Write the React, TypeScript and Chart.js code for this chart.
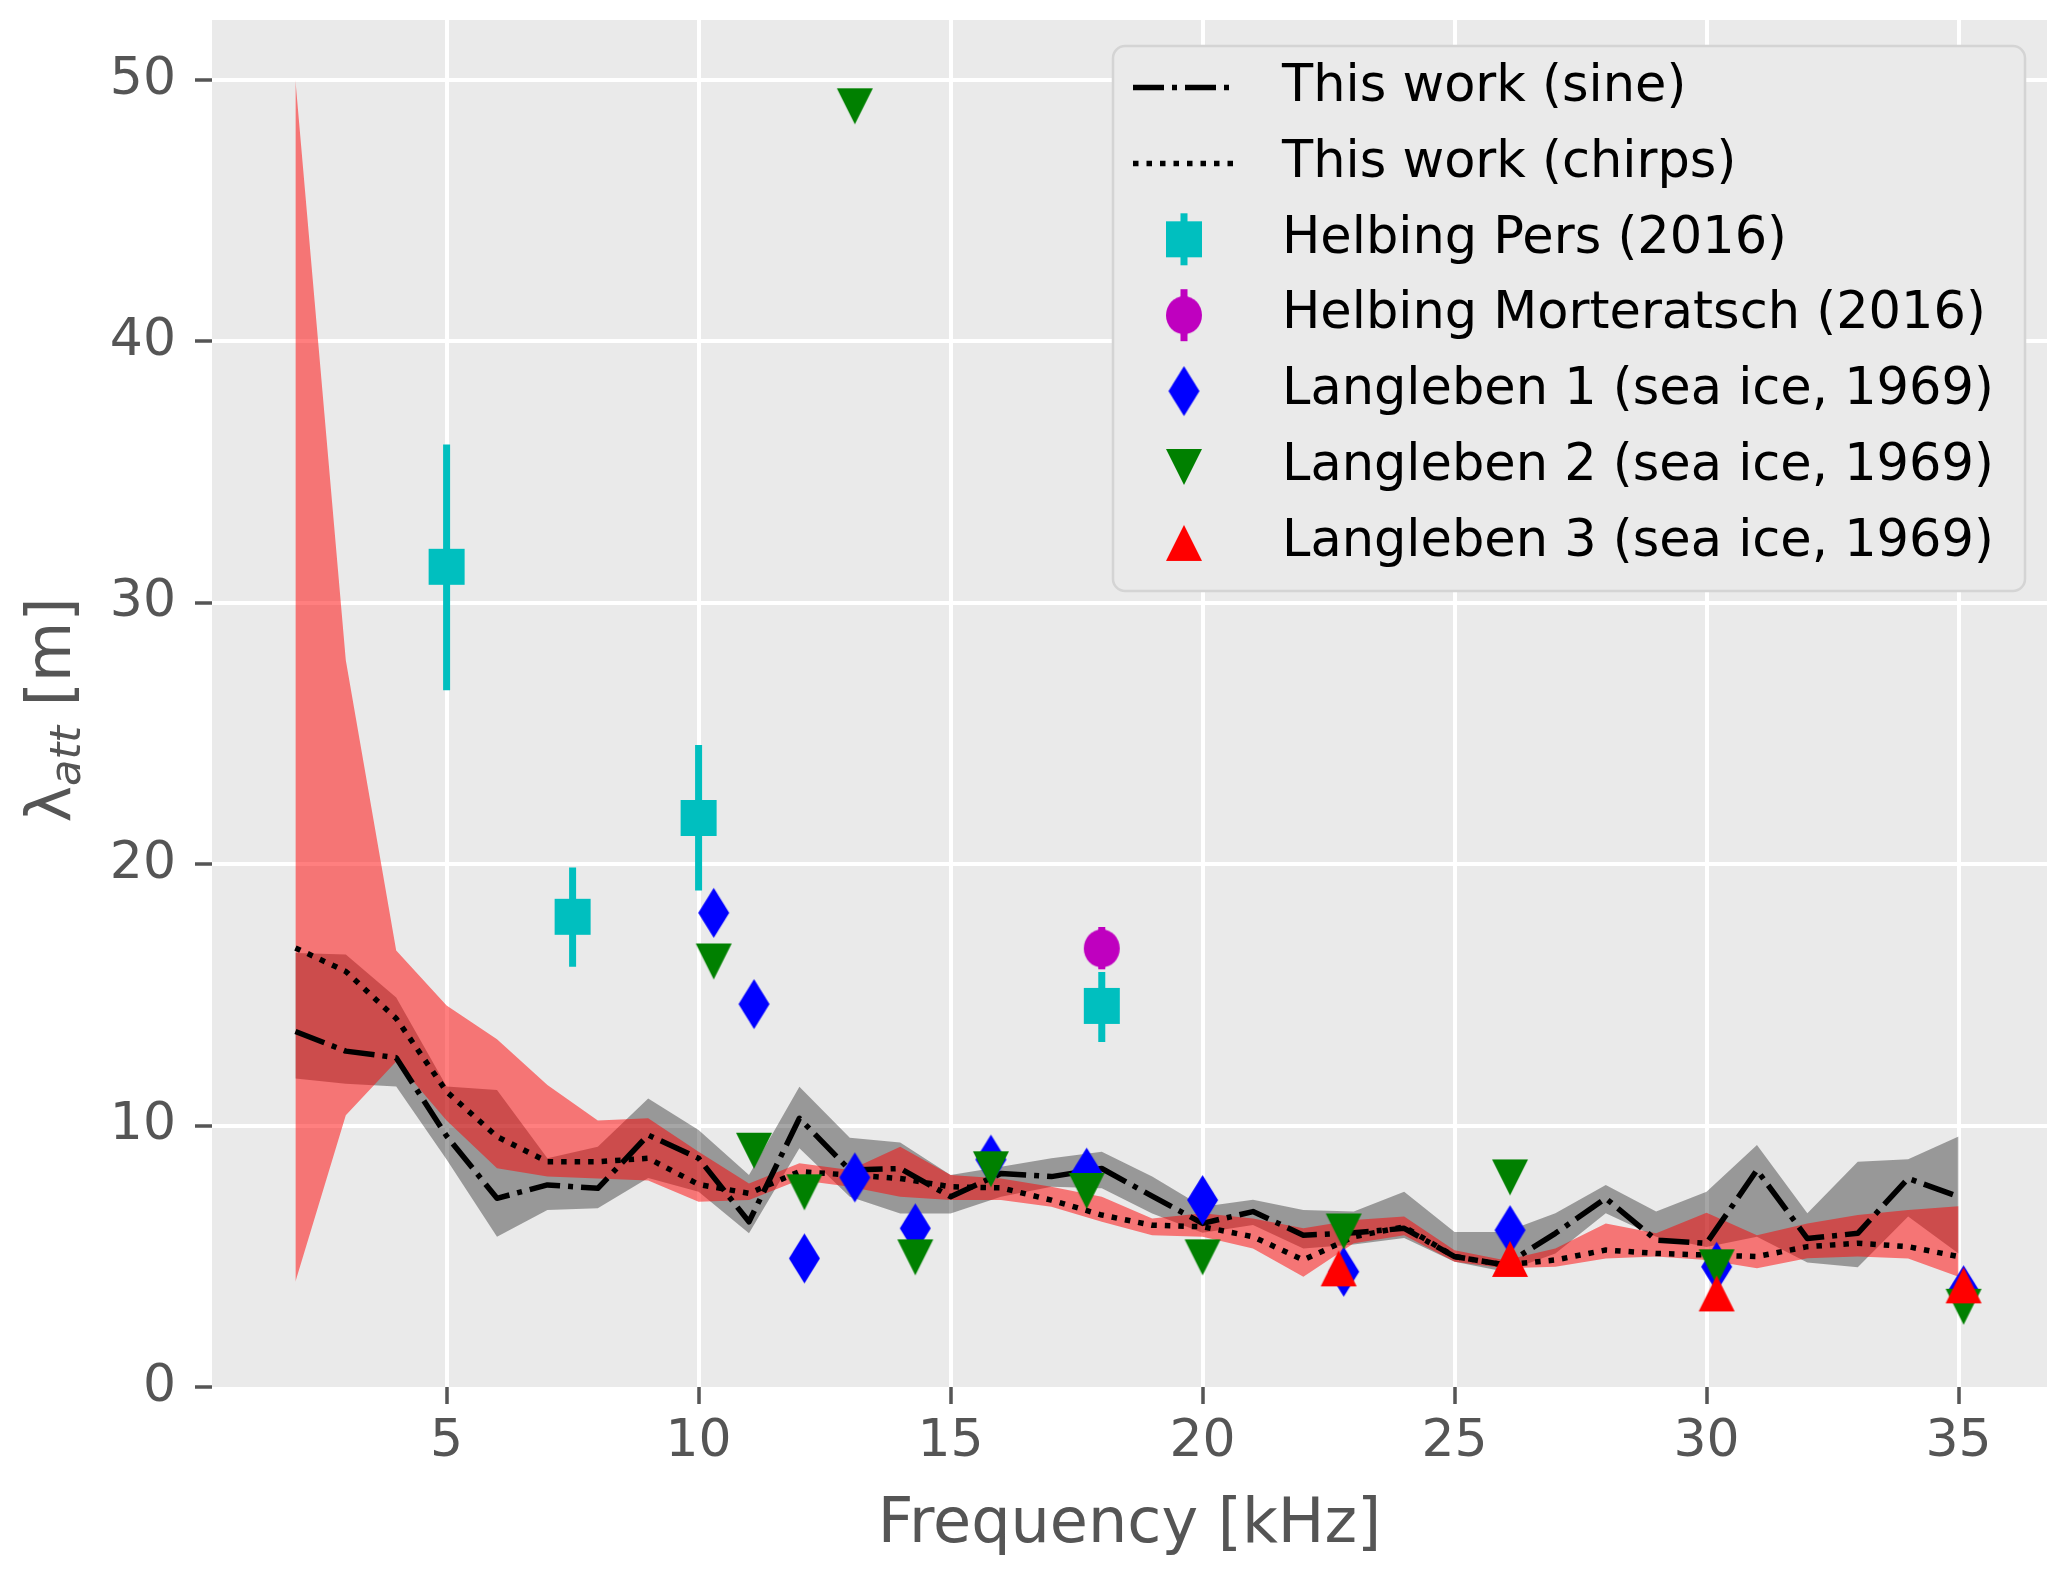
import React, { useEffect, useRef } from 'react';
import { Chart, registerables } from 'chart.js';

Chart.register(...registerables);

// frequency steps of the measured curves [kHz]
const freq = [2, 3, 4, 5, 6, 7, 8, 9, 10, 11, 12, 13, 14, 15, 16, 17, 18, 19, 20, 21, 22, 23, 24, 25, 26, 27, 28, 29, 30, 31, 32, 33, 34, 35];

// This work (sine): mean and band
const sineMean = [13.6, 12.85, 12.6, 9.6, 7.22, 7.73, 7.6, 9.64, 8.75, 6.32, 10.28, 8.3, 8.36, 7.28, 8.17, 8.05, 8.36, 7.3, 6.26, 6.71, 5.81, 5.9, 6.07, 4.99, 4.67, 5.88, 7.22, 5.62, 5.5, 8.3, 5.68, 5.88, 7.98, 7.28];
const sineHigh = [16.6, 16.55, 14.9, 11.5, 11.36, 8.75, 9.19, 11.04, 9.83, 8.11, 11.49, 9.54, 9.35, 8.11, 8.43, 8.75, 9.0, 8.05, 6.9, 7.16, 6.77, 6.71, 7.47, 5.93, 5.93, 6.65, 7.73, 6.71, 7.47, 9.26, 6.65, 8.62, 8.71, 9.58];
const sineLow = [11.8, 11.6, 11.5, 8.7, 5.75, 6.77, 6.84, 8.0, 7.47, 5.88, 9.13, 7.28, 6.64, 6.64, 7.28, 7.66, 7.6, 6.64, 5.9, 6.2, 5.3, 5.45, 5.7, 4.79, 4.41, 5.11, 6.65, 5.75, 5.36, 5.75, 4.76, 4.58, 6.52, 5.11];

// This work (chirps): mean and band
const chirpMean = [16.8, 15.9, 14.1, 11.3, 9.58, 8.62, 8.62, 8.75, 7.75, 7.41, 8.24, 8.11, 7.98, 7.66, 7.62, 7.15, 6.58, 6.19, 6.13, 5.75, 4.86, 5.75, 6.13, 4.99, 4.67, 4.86, 5.24, 5.11, 5.05, 4.99, 5.37, 5.5, 5.37, 4.99];
const chirpHigh = [50, 27.8, 16.7, 14.6, 13.3, 11.55, 10.2, 10.28, 9.0, 7.79, 8.56, 8.3, 9.19, 8.11, 7.98, 7.66, 7.28, 6.45, 6.65, 6.45, 6.07, 6.39, 6.52, 5.23, 4.85, 5.3, 6.26, 5.88, 6.67, 5.81, 6.26, 6.58, 6.77, 6.92];
const chirpLow = [4.03, 10.4, 12.45, 10.2, 8.37, 8.05, 7.98, 7.9, 7.09, 7.15, 7.92, 7.66, 7.28, 7.15, 7.15, 6.9, 6.32, 5.81, 5.75, 5.3, 4.22, 5.5, 5.81, 4.79, 4.54, 4.6, 4.92, 4.99, 4.86, 4.54, 4.93, 4.99, 4.92, 4.22];

// Helbing Pers (2016)
const persFreq = [5, 7.5, 10, 18];
const persVal = [31.38, 17.99, 21.77, 14.58];
const persLow = [26.66, 16.08, 19.0, 13.2];
const persHigh = [36.06, 19.88, 24.56, 15.88];

// Helbing Morteratsch (2016)
const mortFreq = [18];
const mortVal = [16.78];
const mortLow = [15.98];
const mortHigh = [17.6];

// Langleben (sea ice, 1969)
const langFreq = [10.3, 11.1, 12.1, 13.1, 14.3, 15.8, 17.7, 20.0, 22.8, 26.1, 30.2, 35.1];
const lang1Val = [18.14, 14.65, 4.92, 8.02, 6.07, 8.7, 8.2, 7.15, 4.41, 6.0, 4.6, 3.7];
const lang2Val = [16.28, 9.04, 7.45, 49.0, 4.96, 8.33, 7.5, 4.96, 5.95, 8.02, 4.58, 3.07];
const lang3Freq = [22.7, 26.1, 30.2, 35.1];
const lang3Val = [4.54, 4.9, 3.58, 3.89];

const xTicks = [5, 10, 15, 20, 25, 30, 35];
const yTicks = [0, 10, 20, 30, 40, 50];

const legendLabels = [
    'This work (sine)',
    'This work (chirps)',
    'Helbing Pers (2016)',
    'Helbing Morteratsch (2016)',
    'Langleben 1 (sea ice, 1969)',
    'Langleben 2 (sea ice, 1969)',
    'Langleben 3 (sea ice, 1969)',
];

const FONT = '"DejaVu Sans"';
const AXIS_GREY = '#555555';
const PANEL = '#EAEAEA';
const SINE_DASH = [31, 8, 5, 8];
const CHIRP_DASH = [5.5, 8];

const makeMarker = (shape: string, color: string, w: number, h: number) => {
    const c = document.createElement('canvas');
    c.width = Math.round(w) + 2;
    c.height = Math.round(h) + 2;
    const g = c.getContext('2d')!;
    g.fillStyle = color;
    g.translate(c.width / 2, c.height / 2);
    g.beginPath();
    if (shape === 'square') {
        g.rect(-w / 2, -h / 2, w, h);
    } else if (shape === 'circle') {
        g.ellipse(0, 0, w / 2, h / 2, 0, 0, Math.PI * 2);
    } else if (shape === 'diamond') {
        g.moveTo(0, -h / 2);
        g.lineTo(w / 2, 0);
        g.lineTo(0, h / 2);
        g.lineTo(-w / 2, 0);
    } else if (shape === 'down') {
        g.moveTo(-w / 2, -h / 2);
        g.lineTo(w / 2, -h / 2);
        g.lineTo(0, h / 2);
    } else {
        g.moveTo(-w / 2, h / 2);
        g.lineTo(w / 2, h / 2);
        g.lineTo(0, -h / 2);
    }
    g.closePath();
    g.fill();
    return c;
};

const points = (xs: number[], ys: number[]) => xs.map((x, i) => ({ x, y: ys[i] }));

// vertical error bars as separate line pieces
const errorBars = (xs: number[], lo: number[], hi: number[]) =>
    xs.flatMap((x, i) => [{ x, y: lo[i] }, { x, y: hi[i] }, { x, y: null }]);

const panelPlugin = {
    id: 'panel',
    beforeDraw(chart: any) {
        const { ctx, chartArea: a } = chart;
        ctx.save();
        ctx.fillStyle = PANEL;
        ctx.fillRect(a.left, a.top, a.right - a.left, a.bottom - a.top);
        ctx.restore();
    },
};

const axisTitlePlugin = {
    id: 'axisTitles',
    afterDraw(chart: any) {
        const { ctx, chartArea: a } = chart;
        ctx.save();
        ctx.fillStyle = AXIS_GREY;
        ctx.textBaseline = 'alphabetic';
        ctx.textAlign = 'center';
        ctx.font = `62px ${FONT}`;
        ctx.fillText('Frequency [kHz]', (a.left + a.right) / 2, 1542);

        // lambda_att [m], rotated
        ctx.translate(70, 710);
        ctx.rotate(-Math.PI / 2);
        ctx.textAlign = 'left';
        const main = `62px ${FONT}`;
        const sub = `italic 43px ${FONT}`;
        ctx.font = main;
        const wL = ctx.measureText('λ').width;
        const wTail = ctx.measureText(' [m]').width;
        ctx.font = sub;
        const wSub = ctx.measureText('att').width;
        let x = -(wL + wSub + wTail) / 2;
        ctx.font = main;
        ctx.fillText('λ', x, 0);
        x += wL;
        ctx.font = sub;
        ctx.fillText('att', x, 10);
        x += wSub;
        ctx.font = main;
        ctx.fillText(' [m]', x, 0);
        ctx.restore();
    },
};

const boxLegendPlugin = {
    id: 'boxLegend',
    afterDraw(chart: any) {
        const { ctx } = chart;
        const left = 1113, top = 46, w = 912, h = 545, r = 12;
        ctx.save();
        ctx.beginPath();
        ctx.roundRect(left, top, w, h, r);
        ctx.fillStyle = PANEL;
        ctx.fill();
        ctx.lineWidth = 2.5;
        ctx.strokeStyle = '#D4D4D4';
        ctx.stroke();

        legendLabels.forEach((label, i) => {
            const ds = chart.data.datasets.find((d: any) => d.label === label);
            const y = 87.5 + i * 75.9;
            if (!ds) return;
            if (ds.type === 'line') {
                ctx.beginPath();
                ctx.setLineDash(ds.borderDash || []);
                ctx.lineCap = 'butt';
                ctx.lineWidth = ds.borderWidth;
                ctx.strokeStyle = ds.borderColor;
                ctx.moveTo(1133, y);
                ctx.lineTo(1235, y);
                ctx.stroke();
                ctx.setLineDash([]);
            } else {
                const bars = chart.data.datasets.find((d: any) => d.barsOf === label);
                if (bars) {
                    ctx.beginPath();
                    ctx.lineWidth = bars.borderWidth;
                    ctx.strokeStyle = bars.borderColor;
                    ctx.moveTo(1184, y - 26);
                    ctx.lineTo(1184, y + 26);
                    ctx.stroke();
                }
                const img = ds.pointStyle;
                ctx.drawImage(img, 1184 - img.width / 2, y - img.height / 2);
            }
            ctx.fillStyle = '#000000';
            ctx.font = `51px ${FONT}`;
            ctx.textAlign = 'left';
            ctx.textBaseline = 'middle';
            ctx.fillText(label, 1282, y);
        });
        ctx.restore();
    },
};

const App: React.FC = () => {
    const chartRef = useRef<HTMLCanvasElement | null>(null);

    useEffect(() => {
        const ctx = chartRef.current?.getContext('2d');
        if (!ctx) {
            return;
        }

        const cyan = '#00BFBF';
        const magenta = '#BF00BF';

        const band = (ys: number[], color: string | false, order: number) => ({
            type: 'line' as const,
            data: points(freq, ys),
            borderWidth: 0,
            pointRadius: 0,
            tension: 0,
            fill: color ? '+1' : false,
            backgroundColor: color || 'rgba(0,0,0,0)',
            order,
        });

        const markers = (label: string, xs: number[], ys: number[], img: HTMLCanvasElement, order: number) => ({
            type: 'scatter' as const,
            label,
            data: points(xs, ys),
            pointStyle: img,
            pointRadius: 18,
            borderWidth: 0,
            order,
        });

        const bars = (of: string, xs: number[], lo: number[], hi: number[], color: string, order: number) => ({
            type: 'line' as const,
            barsOf: of,
            data: errorBars(xs, lo, hi),
            borderColor: color,
            borderWidth: 7,
            borderCapStyle: 'butt',
            pointRadius: 0,
            spanGaps: false,
            fill: false,
            order,
        });

        const myChart = new Chart(ctx, {
            type: 'line',
            data: {
                datasets: [
                    band(sineHigh, 'rgba(0,0,0,0.35)', 10),
                    band(sineLow, false, 10),
                    band(chirpHigh, 'rgba(255,0,0,0.5)', 9),
                    band(chirpLow, false, 9),
                    {
                        type: 'line',
                        label: 'This work (sine)',
                        data: points(freq, sineMean),
                        borderColor: '#000000',
                        borderWidth: 5.5,
                        borderDash: SINE_DASH,
                        borderCapStyle: 'butt',
                        borderJoinStyle: 'round',
                        pointRadius: 0,
                        tension: 0,
                        fill: false,
                        order: 6,
                    },
                    {
                        type: 'line',
                        label: 'This work (chirps)',
                        data: points(freq, chirpMean),
                        borderColor: '#000000',
                        borderWidth: 5.5,
                        borderDash: CHIRP_DASH,
                        borderCapStyle: 'butt',
                        borderJoinStyle: 'round',
                        pointRadius: 0,
                        tension: 0,
                        fill: false,
                        order: 5,
                    },
                    bars('Helbing Pers (2016)', persFreq, persLow, persHigh, cyan, 4.5),
                    markers('Helbing Pers (2016)', persFreq, persVal, makeMarker('square', cyan, 36, 36), 4),
                    bars('Helbing Morteratsch (2016)', mortFreq, mortLow, mortHigh, magenta, 3.5),
                    markers('Helbing Morteratsch (2016)', mortFreq, mortVal, makeMarker('circle', magenta, 36, 38), 3),
                    markers('Langleben 1 (sea ice, 1969)', langFreq, lang1Val, makeMarker('diamond', '#0000FF', 31, 50), 2),
                    markers('Langleben 2 (sea ice, 1969)', langFreq, lang2Val, makeMarker('down', '#008000', 36, 36), 1),
                    markers('Langleben 3 (sea ice, 1969)', lang3Freq, lang3Val, makeMarker('up', '#FF0000', 36, 36), 0),
                ] as any,
            },
            options: {
                animation: false,
                responsive: false,
                devicePixelRatio: 1,
                events: [],
                layout: {
                    padding: { left: 0, top: 20, right: 20, bottom: 0 },
                },
                plugins: {
                    legend: { display: false },
                    tooltip: { enabled: false },
                },
                scales: {
                    x: {
                        type: 'linear',
                        min: 0.345,
                        max: 36.755,
                        afterBuildTicks: (s: any) => {
                            s.ticks = xTicks.map((value) => ({ value }));
                        },
                        afterFit: (s: any) => {
                            s.height = 188;
                            s.paddingLeft = 0;
                            s.paddingRight = 0;
                        },
                        border: { display: false },
                        grid: {
                            color: '#FFFFFF',
                            lineWidth: 4,
                            drawTicks: true,
                            tickLength: 17,
                            tickWidth: 3.5,
                            tickColor: AXIS_GREY,
                        },
                        ticks: {
                            autoSkip: false,
                            maxRotation: 0,
                            padding: 7,
                            color: AXIS_GREY,
                            font: { family: 'DejaVu Sans', size: 52 },
                        },
                    },
                    y: {
                        type: 'linear',
                        min: 0,
                        max: 52.3,
                        afterBuildTicks: (s: any) => {
                            s.ticks = yTicks.map((value) => ({ value }));
                        },
                        afterFit: (s: any) => {
                            s.width = 212;
                            s.paddingTop = 0;
                            s.paddingBottom = 0;
                        },
                        border: { display: false },
                        grid: {
                            color: (c: any) => (c.tick && c.tick.value === 0 ? 'rgba(0,0,0,0)' : '#FFFFFF'),
                            lineWidth: 4,
                            drawTicks: true,
                            tickLength: 17,
                            tickWidth: 3.5,
                            tickColor: AXIS_GREY,
                        },
                        ticks: {
                            padding: 19,
                            color: AXIS_GREY,
                            font: { family: 'DejaVu Sans', size: 52 },
                        },
                    },
                },
            },
            plugins: [panelPlugin, axisTitlePlugin, boxLegendPlugin],
        });

        return () => {
            myChart.destroy();
        };
    }, []);

    return (
        <div style={{ position: 'fixed', left: 0, top: 0, width: 2067, height: 1575, background: '#FFFFFF' }}>
            <canvas ref={chartRef} width={2067} height={1575} style={{ display: 'block', width: 2067, height: 1575 }} />
        </div>
    );
};

export default App;
